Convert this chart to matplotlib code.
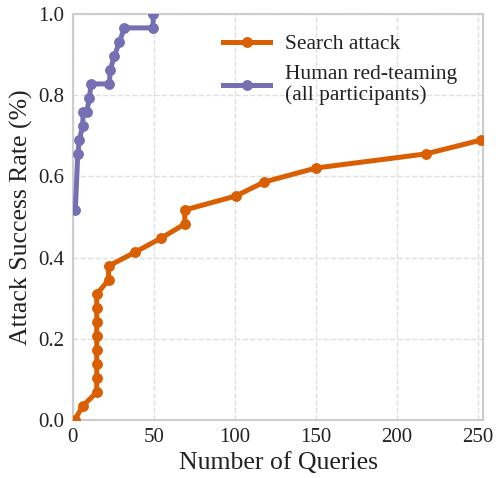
import matplotlib
matplotlib.use("Agg")
import matplotlib.pyplot as plt

N = 29
search_x = [1, 6, 14.7, 14.7, 14.7, 14.7, 14.7, 14.7, 14.7, 14.7, 22, 22, 38.5, 54.5, 69, 69, 100.5, 118, 150, 217.5, 252]
search_k = [0, 1, 2, 3, 4, 5, 6, 7, 8, 9, 10, 11, 12, 13, 14, 15, 16, 17, 18, 19, 20]
human_x = [1.5, 3, 4, 6, 6.3, 8.5, 10.2, 11.2, 22.5, 23, 25.6, 28.7, 31.8, 49.3, 49.7]
human_k = [15, 19, 20, 21, 22, 22, 23, 24, 24, 25, 26, 27, 28, 28, 29]

search_y = [k / N for k in search_k]
human_y = [k / N for k in human_k]

plt.rcParams['font.family'] = ['Liberation Serif', 'DejaVu Serif']

fig, ax = plt.subplots(figsize=(4.96, 4.78), dpi=100)
fig.subplots_adjust(left=0.147, right=0.974, top=0.971, bottom=0.121)

ax.plot(search_x, search_y, '-o', color='#d95f02', lw=3.6, ms=6.8, label='Search attack', zorder=3)
ax.plot(human_x, human_y, '-o', color='#7570b3', lw=3.6, ms=6.8, label='Human red-teaming\n(all participants)', zorder=3)

ax.set_xlim(0, 253)
ax.set_ylim(0, 1.0)
ax.set_xticks([0, 50, 100, 150, 200, 250])
ax.set_yticks([0, 0.2, 0.4, 0.6, 0.8, 1.0])
ax.set_yticklabels(['0.0', '0.2', '0.4', '0.6', '0.8', '1.0'])
ax.tick_params(axis='y', labelsize=15, length=0, pad=6)
ax.tick_params(axis='x', labelsize=15, length=0, pad=6)
ax.set_xlabel('Number of Queries', fontsize=18.5, labelpad=3, color='#222222')
ax.set_ylabel('Attack Success Rate (%)', fontsize=18.5, labelpad=4, color='#222222')
ax.grid(True, color='#e0e0e0', ls='--', lw=1)
ax.set_axisbelow(True)
for s in ax.spines.values():
    s.set_color('#cccccc')
    s.set_linewidth(1.5)
for lbl in ax.get_xticklabels() + ax.get_yticklabels():
    lbl.set_color('#222222')

leg = ax.legend(loc='upper left', bbox_to_anchor=(0.366, 0.95), frameon=False, fontsize=15.5,
                handlelength=2.2, handletextpad=0.7, labelspacing=0.5,
                borderpad=0, borderaxespad=0)
for t in leg.get_texts():
    t.set_color('#222222')
    t.set_linespacing(1.1)

fig.savefig('out.png', dpi=100)
